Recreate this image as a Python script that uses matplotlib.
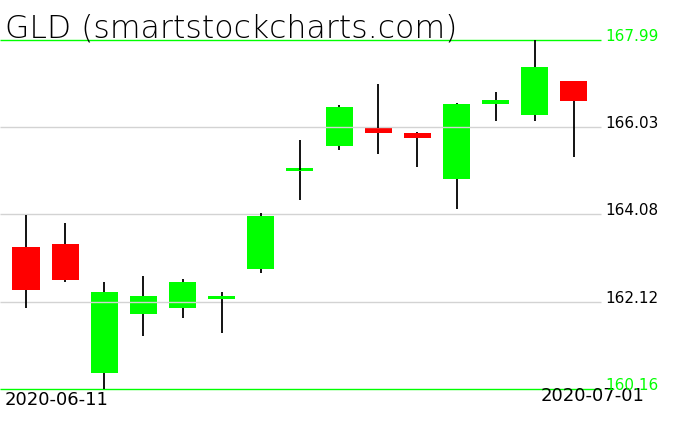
import numpy as np
import matplotlib
matplotlib.use("Agg")
import matplotlib.pyplot as plt

# podaci (citani sa slike)
otvaranje = [163.35, 163.41, 160.51, 161.85, 161.98, 162.19, 162.86, 165.06, 165.62, 166.02, 165.90, 164.88, 166.56, 166.31, 167.07]
zatvaranje = [162.39, 162.61, 162.34, 162.25, 162.56, 162.25, 164.04, 165.08, 166.49, 165.91, 165.80, 166.55, 166.65, 167.38, 166.63]
maksimum = [164.07, 163.88, 162.56, 162.69, 162.63, 162.34, 164.11, 165.75, 166.53, 167.00, 165.92, 166.58, 166.83, 167.99, 167.07]
minimum = [161.97, 162.55, 160.16, 161.35, 161.76, 161.42, 162.77, 164.40, 165.53, 165.44, 165.15, 164.20, 166.18, 166.18, 165.36]
datumi = ["2020-06-11", "2020-07-01"]
nivoi = [167.99, 166.03, 164.08, 162.12, 160.16]

o = np.array(otvaranje)
c = np.array(zatvaranje)
h = np.array(maksimum)
l = np.array(minimum)
x = np.arange(len(o))

# skala: piksel -> cena
px = (nivoi[0] - nivoi[-1]) / 349.0
step = 39.14

fig = plt.figure(figsize=(6.76, 4.31), dpi=100)
ax = fig.add_axes([0, 0, 1, 1])
ax.set_xlim(-26 / step, (676 - 26) / step)
ax.set_ylim(nivoi[-1] - 41 * px, nivoi[0] + 41 * px)
ax.axis("off")

boje = np.where(c >= o, "#00ff00", "#ff0000")
vrh = np.maximum(o, c)
dno = np.minimum(o, c)
visina = np.maximum(vrh - dno, 2.5 * px)

ax.bar(x, visina, bottom=dno, width=0.69, color=boje, zorder=1)
ax.vlines(x, vrh, h, color="black", lw=1.3, zorder=3)
ax.vlines(x, l, dno, color="black", lw=1.3, zorder=3)

# horizontalne linije
x_kraj = (601 - 26) / step
for i, n in enumerate(nivoi):
    kraj = i == 0 or i == len(nivoi) - 1
    ax.hlines(n, -26 / step, x_kraj, color="#00ff00" if kraj else "#d3d3d3",
              lw=1.0, zorder=2)
    ax.text(605 / 676, n, f"{n:.2f}", transform=ax.get_yaxis_transform(),
            color="#00ff00" if kraj else "black", fontsize=11,
            va="baseline", ha="left", zorder=4)

ax.text(5 / 676, (431 - 37) / 431, "GLD (smartstockcharts.com)", transform=ax.transAxes,
        fontsize=22.7, fontweight="light", va="baseline", ha="left")

ax.text(5 / 676, nivoi[-1] - 10 * px, datumi[0], fontsize=13,
        transform=ax.get_yaxis_transform(), va="center", ha="left")
ax.text(645 / 676, nivoi[-1] - 6 * px, datumi[1], fontsize=13,
        transform=ax.get_yaxis_transform(), va="center", ha="right")

fig.savefig("out.png", dpi=100)
